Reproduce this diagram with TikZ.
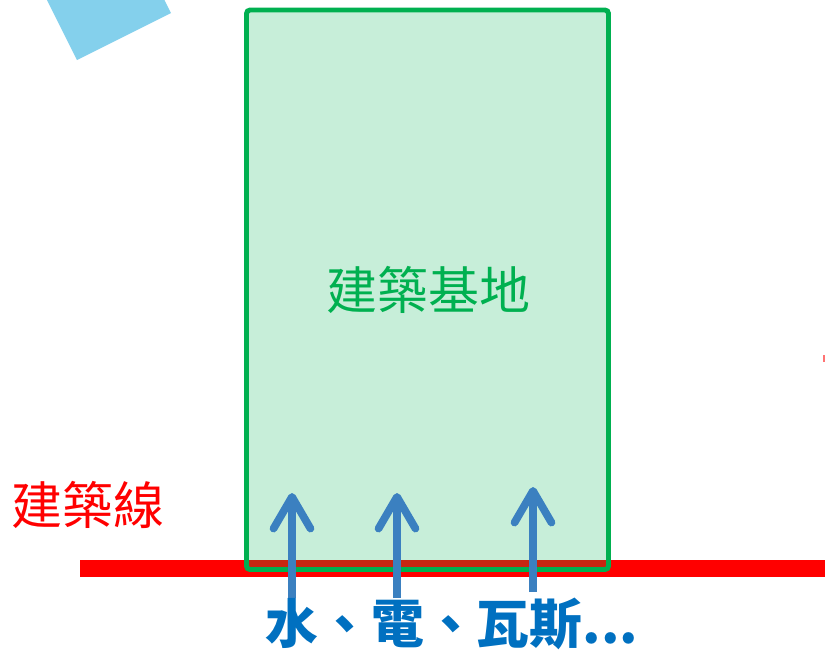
\documentclass[tikz,border=0pt]{standalone}
\usepackage{fontspec}
\setmainfont{Noto Sans CJK TC}
\usetikzlibrary{arrows.meta}
\definecolor{jiGreen}{RGB}{0,176,80}
\definecolor{pipeBlue}{RGB}{59,128,192}
\definecolor{textBlue}{RGB}{0,112,192}
\definecolor{skyBlue}{RGB}{132,208,236}
\tikzset{
  pipe/.style={line width=2.2pt, pipeBlue, -{Straight Barb[round, length=9pt, width=10.5pt]}},
  label/.style={inner sep=0pt, font=\fontsize{14.5pt}{16pt}\selectfont}
}
\begin{document}
\begin{tikzpicture}[x=0.01cm, y=-0.01cm]
        \useasboundingbox (0,0) rectangle (825,650);

        % 左上角的藍色方塊
        \fill[skyBlue] (47,0) -- (77,60) -- (171,13) -- (164.5,0) -- cycle;

        % 右側邊緣的紅點
        \fill[red!55] (823,355) rectangle (825,362);

        % 建築線
        \draw[red, line width=4.6pt] (80,568.5) -- (825,568.5);

        % 建築基地
        \draw[jiGreen, line width=1.4pt, rounded corners=1pt,
              fill=jiGreen, fill opacity=0.22, draw opacity=1]
              (246.5,10) rectangle (608.5,569.5);
        \node[label, text=jiGreen] (site) at (428,290) {建築基地};
        \node[label, text=red] (line) at (88,505) {建築線};

        % 水、電、瓦斯
        \coordinate (w0) at (292,598);  \coordinate (w1) at (292,493);
        \coordinate (e0) at (397,598);  \coordinate (e1) at (397,493);
        \coordinate (g0) at (533,592);  \coordinate (g1) at (533,487);
        \draw[pipe] (w0) -- (w1);
        \draw[pipe] (e0) -- (e1);
        \draw[pipe] (g0) -- (g1);
        \node[label, text=textBlue, font=\fontsize{15pt}{17pt}\selectfont\bfseries]
              (util) at (452,624) {水、電、瓦斯...};
\end{tikzpicture}
\end{document}
